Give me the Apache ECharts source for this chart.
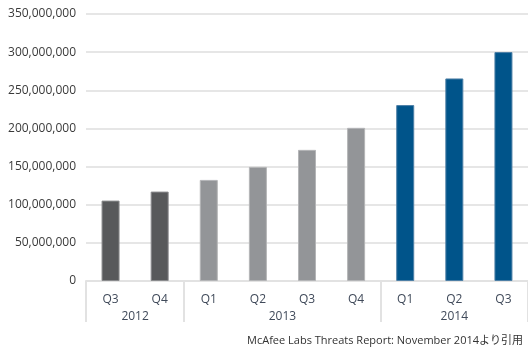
<!DOCTYPE html>
<html>
<head>
<meta charset="utf-8">
<script src="https://cdn.jsdelivr.net/npm/echarts@6/dist/echarts.min.js"></script>
<style>
html,body{margin:0;padding:0;background:#fff;}
#chart{width:528px;height:351px;}
</style>
</head>
<body>
<div id="chart"></div>
<script>
// ---- data ----
var quarters = ['Q3','Q4','Q1','Q2','Q3','Q4','Q1','Q2','Q3'];
var values = [105400000, 117200000, 132500000, 149600000, 171900000, 200800000, 230600000, 265500000, 300100000];
var years = ['2012','2013','2014'];
var yearSizes = [2, 4, 3];
var yTicks = [0, 50000000, 100000000, 150000000, 200000000, 250000000, 300000000, 350000000];
var source = 'McAfee Labs Threats Report: November 2014より引用';

// ---- styling ----
var yearColors = ['#58595b', '#939598', '#00548a'];
var yearBorders = ['#8a8b8d', '#b4b5b7', '#4d7fa6'];

var barData = [];
var idx = 0;
var yearCenters = [];
var yearBounds = [0];
for (var g = 0; g < yearSizes.length; g++) {
  yearCenters.push(idx + yearSizes[g] / 2);
  for (var k = 0; k < yearSizes[g]; k++) {
    barData.push({
      value: values[idx],
      itemStyle: { color: yearColors[g], borderColor: yearBorders[g], borderWidth: 1 }
    });
    idx++;
  }
  yearBounds.push(idx);
}

var font = '"Open Sans", "Noto Sans", sans-serif';
var chart = echarts.init(document.getElementById('chart'), null, { renderer: 'canvas' });
chart.setOption({
  animation: false,
  backgroundColor: '#fff',
  grid: { left: 86, right: -1, top: 14, bottom: 70, containLabel: false },
  title: {
    text: source, right: 0, bottom: 0,
    textStyle: { fontFamily: '"Open Sans", "Noto Sans CJK JP", sans-serif', fontSize: 11, fontWeight: 'normal', color: '#333' }
  },
  xAxis: [
    {
      type: 'category', data: quarters, boundaryGap: true,
      axisLine: { show: true, lineStyle: { color: '#e2e2e2', width: 2 } },
      axisTick: { show: false },
      axisLabel: { color: '#404a5a', fontSize: 12, fontFamily: font, margin: 13 }
    },
    {
      type: 'value', position: 'bottom', min: 0, max: quarters.length,
      axisLine: { show: false },
      splitLine: { show: false },
      axisTick: { show: true, customValues: yearBounds, length: 41, lineStyle: { color: '#e2e2e2', width: 2 } },
      axisLabel: {
        customValues: yearCenters, color: '#404a5a', fontSize: 12, fontFamily: font, margin: 30,
        formatter: function (v) {
          for (var i = 0; i < yearCenters.length; i++) if (Math.abs(yearCenters[i] - v) < 1e-6) return years[i];
          return '';
        }
      }
    }
  ],
  yAxis: {
    type: 'value', min: 0, max: yTicks[yTicks.length - 1], interval: yTicks[1] - yTicks[0],
    axisLine: { show: false }, axisTick: { show: false },
    splitLine: { lineStyle: { color: '#e6e6e6', width: 2 } },
    axisLabel: {
      color: '#3a3a3a', fontSize: 12, fontFamily: font, margin: 10,
      formatter: function (v) { return v.toLocaleString('en-US'); }
    }
  },
  series: [{
    type: 'bar', xAxisIndex: 0, data: barData, barWidth: 18
  }]
});
</script>
</body>
</html>
